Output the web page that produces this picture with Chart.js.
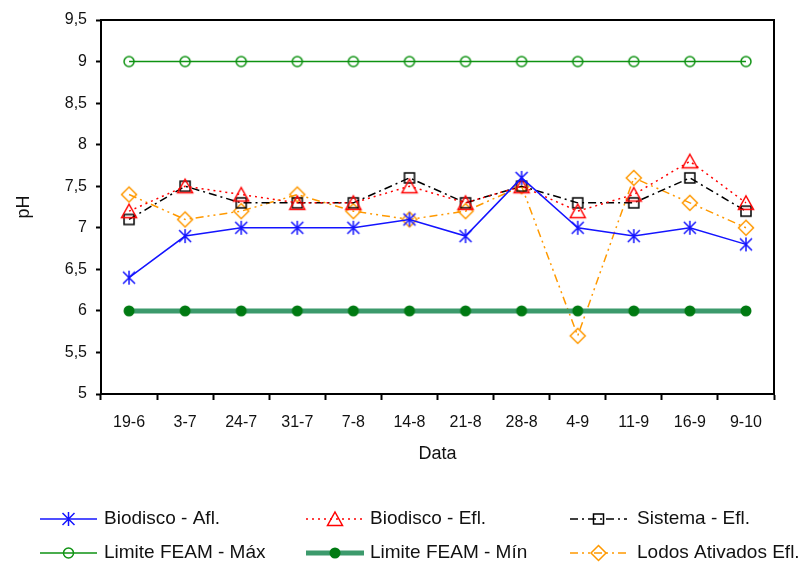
<!DOCTYPE html>
<html>
<head>
<meta charset="utf-8">
<script src="https://cdn.jsdelivr.net/npm/chart.js@4"></script>
<style>
  html, body { margin: 0; padding: 0; background: #fff; }
  #wrap { width: 806px; height: 567px; }
</style>
</head>
<body>
<div id="wrap"><canvas id="c" width="806" height="567"></canvas></div>
<script>
// Sampling dates (day-month)
const categories = ['19-6', '3-7', '24-7', '31-7', '7-8', '14-8', '21-8', '28-8', '4-9', '11-9', '16-9', '9-10'];

// pH per series
const biodiscoAfl = [6.4, 6.9, 7.0, 7.0, 7.0, 7.1, 6.9, 7.6, 7.0, 6.9, 7.0, 6.8];
const biodiscoEfl = [7.2, 7.5, 7.4, 7.3, 7.3, 7.5, 7.3, 7.5, 7.2, 7.4, 7.8, 7.3];
const sistemaEfl  = [7.1, 7.5, 7.3, 7.3, 7.3, 7.6, 7.3, 7.5, 7.3, 7.3, 7.6, 7.2];
const limiteMax   = [9, 9, 9, 9, 9, 9, 9, 9, 9, 9, 9, 9];
const limiteMin   = [6, 6, 6, 6, 6, 6, 6, 6, 6, 6, 6, 6];
const lodosEfl    = [7.4, 7.1, 7.2, 7.4, 7.2, 7.1, 7.2, 7.5, 5.7, 7.6, 7.3, 7.0];

// y axis range
const yMin = 5, yMax = 9.5, yStep = 0.5;

const FONT = '"Liberation Sans", Arial, Helvetica, sans-serif';

const BLUE = '#1414ff', RED = '#ff0000', BLACK = '#000000',
      GREEN = '#0e9212', SEA = '#3c9a6c', DKGREEN = '#007a12', ORANGE = '#ff9900';

function drawMarker(ctx, kind, x, y) {
  ctx.save();
  ctx.lineWidth = 1.5;
  ctx.setLineDash([]);
  ctx.beginPath();
  switch (kind) {
    case 'asterisk':
      ctx.strokeStyle = BLUE;
      ctx.moveTo(x, y - 7); ctx.lineTo(x, y + 7);
      ctx.moveTo(x - 6, y - 6); ctx.lineTo(x + 6, y + 6);
      ctx.moveTo(x - 6, y + 6); ctx.lineTo(x + 6, y - 6);
      ctx.stroke();
      break;
    case 'triangle':
      ctx.strokeStyle = RED;
      ctx.moveTo(x, y - 7); ctx.lineTo(x + 7.5, y + 6.5); ctx.lineTo(x - 7.5, y + 6.5); ctx.closePath();
      ctx.stroke();
      break;
    case 'square':
      ctx.strokeStyle = BLACK;
      ctx.rect(x - 5, y - 5, 10, 10);
      ctx.stroke();
      break;
    case 'diamond':
      ctx.strokeStyle = ORANGE;
      ctx.moveTo(x, y - 7.5); ctx.lineTo(x + 7.5, y); ctx.lineTo(x, y + 7.5); ctx.lineTo(x - 7.5, y); ctx.closePath();
      ctx.stroke();
      break;
    case 'ring':
      ctx.strokeStyle = GREEN;
      ctx.arc(x, y, 5, 0, Math.PI * 2);
      ctx.stroke();
      break;
    case 'dot':
      ctx.fillStyle = DKGREEN;
      ctx.arc(x, y, 5.5, 0, Math.PI * 2);
      ctx.fill();
      break;
  }
  ctx.restore();
}

function markerCanvas(kind) {
  const c = document.createElement('canvas');
  c.width = 20; c.height = 20;
  drawMarker(c.getContext('2d'), kind, 10, 10);
  return c;
}

const series = [
  { label: 'Biodisco - Afl.', data: biodiscoAfl, color: BLUE, width: 1.5, dash: [], marker: 'asterisk' },
  { label: 'Biodisco - Efl.', data: biodiscoEfl, color: RED, width: 1.5, dash: [2, 4], marker: 'triangle' },
  { label: 'Sistema - Efl.', data: sistemaEfl, color: BLACK, width: 1.5, dash: [8, 4, 2, 4], marker: 'square' },
  { label: 'Limite FEAM - Máx', data: limiteMax, color: GREEN, width: 1.5, dash: [], marker: 'ring' },
  { label: 'Limite FEAM - Mín', data: limiteMin, color: SEA, width: 5, dash: [], marker: 'dot' },
  { label: 'Lodos Ativados Efl.', data: lodosEfl, color: ORANGE, width: 1.5, dash: [8, 4, 2, 4, 2, 4], marker: 'diamond' }
];

// Plot frame (top and right edges) and the legend below the axis
const framePlugin = {
  id: 'frameAndLegend',
  beforeDatasetsDraw(chart) {
    const { ctx, chartArea: a } = chart;
    ctx.save();
    ctx.strokeStyle = '#000';
    ctx.lineWidth = 2;
    ctx.beginPath();
    ctx.moveTo(a.left, a.top);
    ctx.lineTo(a.right, a.top);
    ctx.lineTo(a.right, a.bottom);
    ctx.stroke();
    ctx.restore();
  },
  afterDraw(chart) {
    const ctx = chart.ctx;
    const cols = [
      { x0: 40, x1: 97, tx: 104 },
      { x0: 306, x1: 364, tx: 370 },
      { x0: 570, x1: 627, tx: 637 }
    ];
    const rows = [519, 553];
    series.forEach((s, i) => {
      const col = cols[i % 3], y = rows[Math.floor(i / 3)];
      ctx.save();
      ctx.strokeStyle = s.color;
      ctx.lineWidth = s.width;
      ctx.setLineDash(s.dash);
      ctx.beginPath();
      ctx.moveTo(col.x0, y);
      ctx.lineTo(col.x1, y);
      ctx.stroke();
      ctx.restore();
      drawMarker(ctx, s.marker, (col.x0 + col.x1) / 2, y);
      ctx.save();
      ctx.fillStyle = '#111';
      ctx.font = '19px ' + FONT;
      ctx.textBaseline = 'middle';
      ctx.textAlign = 'left';
      ctx.fillText(s.label, col.tx, y);
      ctx.restore();
    });
  }
};

new Chart(document.getElementById('c'), {
  type: 'line',
  data: {
    labels: categories,
    datasets: series.map(s => ({
      label: s.label,
      data: s.data,
      borderColor: s.color,
      borderWidth: s.width,
      borderDash: s.dash,
      backgroundColor: 'transparent',
      fill: false,
      tension: 0,
      pointStyle: markerCanvas(s.marker),
      pointRadius: 7,
      pointHoverRadius: 7
    }))
  },
  options: {
    responsive: false,
    animation: false,
    events: [],
    layout: { padding: { left: 0, top: 20, right: 32, bottom: 100 } },
    plugins: {
      legend: { display: false },
      tooltip: { enabled: false }
    },
    scales: {
      x: {
        type: 'category',
        offset: true,
        grid: {
          offset: true,
          drawOnChartArea: false,
          drawTicks: true,
          tickLength: 6,
          tickWidth: 2,
          tickColor: '#000'
        },
        border: { display: true, color: '#000', width: 2 },
        ticks: {
          color: '#111',
          font: { family: FONT, size: 16 },
          padding: 13,
          maxRotation: 0,
          autoSkip: false
        },
        title: {
          display: true,
          text: 'Data',
          color: '#111',
          font: { family: FONT, size: 18 },
          padding: { top: 0, bottom: 2 }
        },
        afterFit(scale) { scale.height = 73; }
      },
      y: {
        min: yMin,
        max: yMax,
        grid: {
          drawOnChartArea: false,
          drawTicks: true,
          tickLength: 5,
          tickWidth: 2,
          tickColor: '#000'
        },
        border: { display: true, color: '#000', width: 2 },
        ticks: {
          stepSize: yStep,
          color: '#111',
          font: { family: FONT, size: 16 },
          padding: 9,
          callback: v => String(v).replace('.', ',')
        },
        title: {
          display: true,
          text: 'pH',
          color: '#111',
          font: { family: FONT, size: 18 },
          padding: { top: 13, bottom: 0 }
        },
        afterFit(scale) { scale.width = 101; }
      }
    }
  },
  plugins: [framePlugin]
});
</script>
</body>
</html>
